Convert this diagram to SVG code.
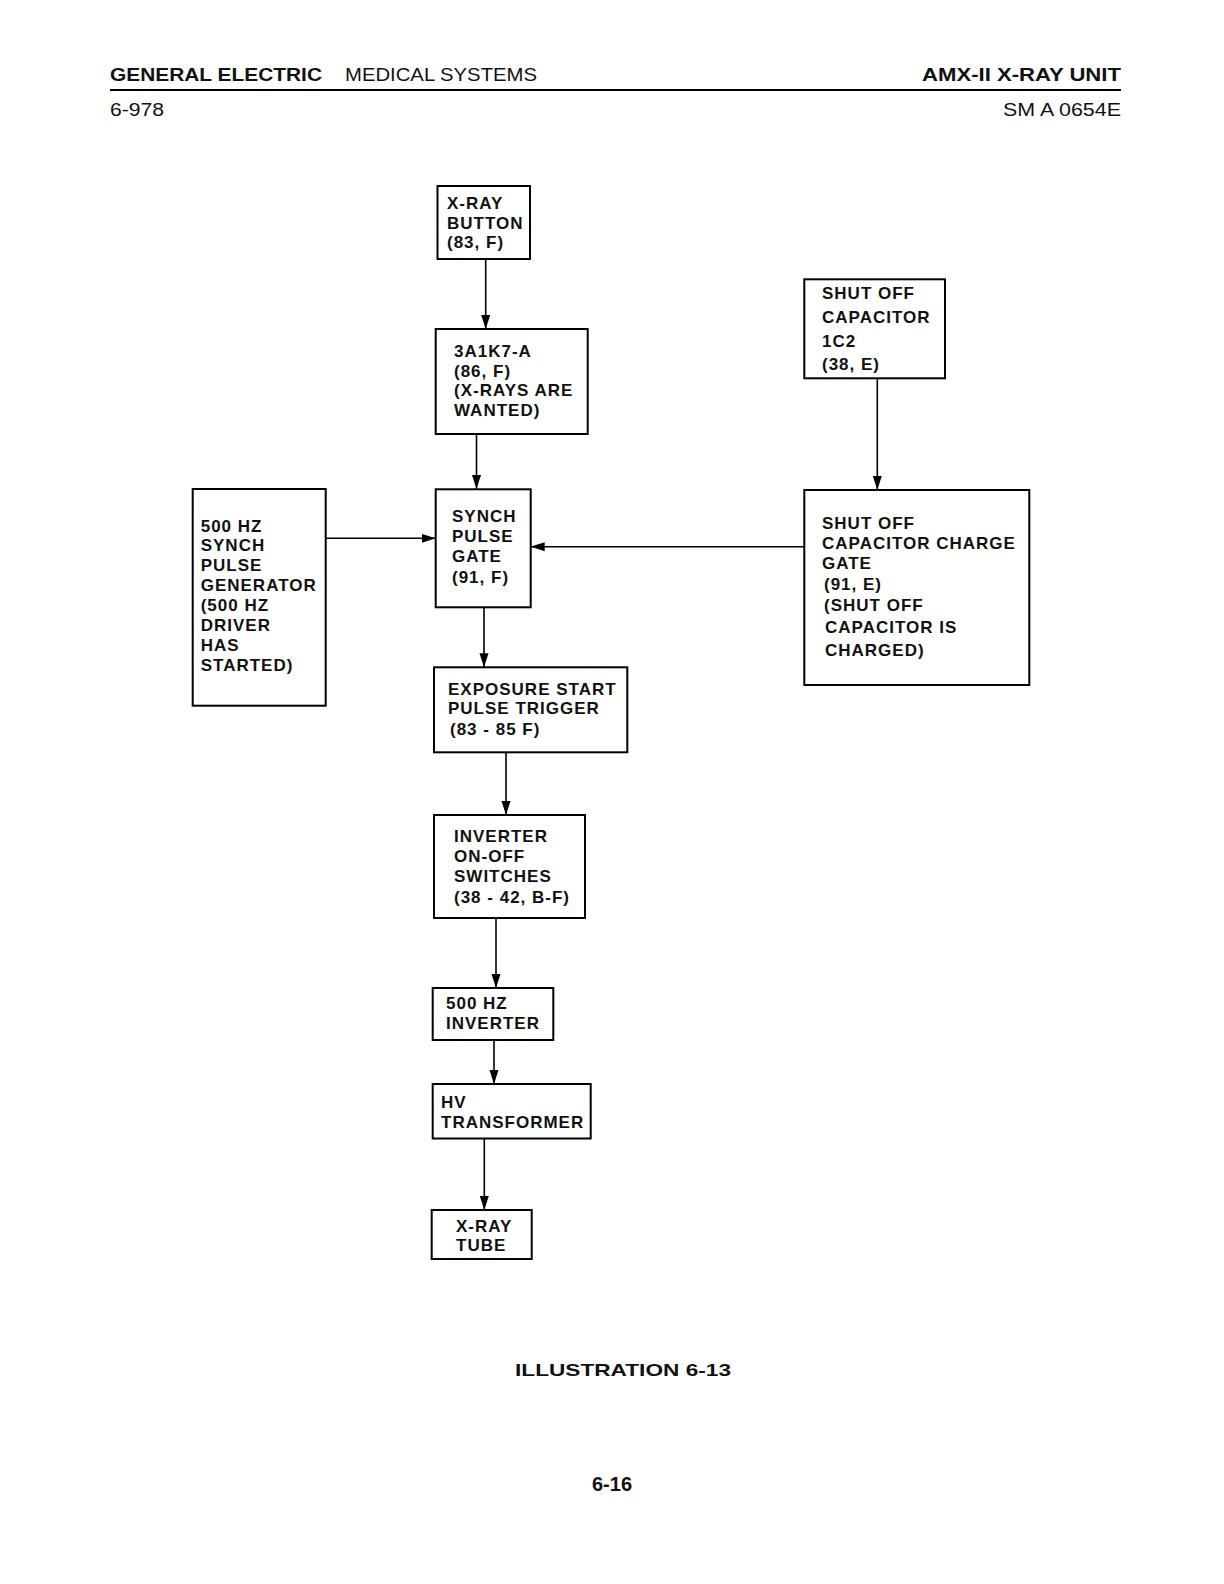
<svg xmlns="http://www.w3.org/2000/svg" width="1224" height="1584" viewBox="0 0 1224 1584">
<style>
.box{fill:none;stroke:#000;stroke-width:2}
.t{font-family:"Liberation Sans",Arial,sans-serif;font-weight:bold;font-size:17px;letter-spacing:1px;fill:#111}
.h{font-family:"Liberation Sans",Arial,sans-serif;fill:#111}
.c{fill:none;stroke:#000;stroke-width:1.6}
</style>
<defs>
<marker id="ah" markerUnits="userSpaceOnUse" markerWidth="14" markerHeight="10" refX="14" refY="5" orient="auto">
<path d="M0,0.5 L14,5 L0,9.5 Z" fill="#000"/>
</marker>
</defs>
<rect width="1224" height="1584" fill="#fff"/>
<g id="header">
<text class="h" x="110" y="81" font-size="18" font-weight="bold" textLength="212" lengthAdjust="spacingAndGlyphs">GENERAL ELECTRIC</text>
<text class="h" x="345" y="81" font-size="18" textLength="192" lengthAdjust="spacingAndGlyphs">MEDICAL  SYSTEMS</text>
<text class="h" x="922" y="81" font-size="18" font-weight="bold" textLength="199" lengthAdjust="spacingAndGlyphs">AMX-II X-RAY UNIT</text>
<line x1="110" y1="90" x2="1121" y2="90" stroke="#000" stroke-width="2"/>
<text class="h" x="110" y="115.5" font-size="18" textLength="54" lengthAdjust="spacingAndGlyphs">6-978</text>
<text class="h" x="1003" y="115.5" font-size="18" textLength="118" lengthAdjust="spacingAndGlyphs">SM A 0654E</text>
</g>
<g id="connectors">
<line class="c" x1="485.7" y1="259" x2="485.7" y2="329" marker-end="url(#ah)"/>
<line class="c" x1="476.5" y1="434" x2="476.5" y2="489" marker-end="url(#ah)"/>
<line class="c" x1="325.7" y1="538.3" x2="435.7" y2="538.3" marker-end="url(#ah)"/>
<line class="c" x1="804.3" y1="546.7" x2="530.7" y2="546.7" marker-end="url(#ah)"/>
<line class="c" x1="877.3" y1="378.3" x2="877.3" y2="490" marker-end="url(#ah)"/>
<line class="c" x1="484" y1="607.3" x2="484" y2="667.3" marker-end="url(#ah)"/>
<line class="c" x1="506" y1="752.3" x2="506" y2="815" marker-end="url(#ah)"/>
<line class="c" x1="496" y1="918" x2="496" y2="988" marker-end="url(#ah)"/>
<line class="c" x1="494" y1="1040" x2="494" y2="1084" marker-end="url(#ah)"/>
<line class="c" x1="484.3" y1="1138.5" x2="484.3" y2="1210" marker-end="url(#ah)"/>
</g>
<g id="xray-button">
<rect class="box" x="437.5" y="186" width="92.5" height="73"/>
<text class="t" x="447" y="209">X-RAY</text>
<text class="t" x="447" y="228.5">BUTTON</text>
<text class="t" x="447" y="247.5">(83, F)</text>
</g>
<g id="k7a">
<rect class="box" x="435.7" y="329" width="152" height="105"/>
<text class="t" x="454" y="357">3A1K7-A</text>
<text class="t" x="454" y="376.5">(86, F)</text>
<text class="t" x="454" y="396">(X-RAYS ARE</text>
<text class="t" x="454" y="415.5">WANTED)</text>
</g>
<g id="synch-gate">
<rect class="box" x="435.7" y="489.3" width="95" height="118"/>
<text class="t" x="452" y="522">SYNCH</text>
<text class="t" x="452" y="542">PULSE</text>
<text class="t" x="452" y="562">GATE</text>
<text class="t" x="452" y="583">(91, F)</text>
</g>
<g id="synch-gen">
<rect class="box" x="192.7" y="489" width="133" height="216.7"/>
<text class="t" x="200.7" y="531.7">500 HZ</text>
<text class="t" x="200.7" y="551">SYNCH</text>
<text class="t" x="200.7" y="571">PULSE</text>
<text class="t" x="200.7" y="591">GENERATOR</text>
<text class="t" x="200.7" y="610.5">(500 HZ</text>
<text class="t" x="200.7" y="630.5">DRIVER</text>
<text class="t" x="200.7" y="650.5">HAS</text>
<text class="t" x="200.7" y="670.5">STARTED)</text>
</g>
<g id="shutoff-cap">
<rect class="box" x="804.3" y="279.3" width="140.7" height="99"/>
<text class="t" x="822" y="298.5">SHUT OFF</text>
<text class="t" x="822" y="323">CAPACITOR</text>
<text class="t" x="822" y="347">1C2</text>
<text class="t" x="822" y="370">(38, E)</text>
</g>
<g id="charge-gate">
<rect class="box" x="804.3" y="490" width="225" height="195"/>
<text class="t" x="822" y="529">SHUT OFF</text>
<text class="t" x="822" y="549">CAPACITOR CHARGE</text>
<text class="t" x="822" y="568.5">GATE</text>
<text class="t" x="824" y="589.5">(91, E)</text>
<text class="t" x="824" y="610.5">(SHUT OFF</text>
<text class="t" x="825" y="633">CAPACITOR IS</text>
<text class="t" x="825" y="656">CHARGED)</text>
</g>
<g id="exposure">
<rect class="box" x="434" y="667.3" width="193.3" height="85"/>
<text class="t" x="448" y="695">EXPOSURE START</text>
<text class="t" x="448" y="714">PULSE TRIGGER</text>
<text class="t" x="450" y="735">(83 - 85 F)</text>
</g>
<g id="inverter-switches">
<rect class="box" x="434" y="815" width="151" height="103"/>
<text class="t" x="454" y="842">INVERTER</text>
<text class="t" x="454" y="862">ON-OFF</text>
<text class="t" x="454" y="882">SWITCHES</text>
<text class="t" x="454" y="902.5">(38 - 42, B-F)</text>
</g>
<g id="inverter">
<rect class="box" x="432.7" y="988" width="120.6" height="52"/>
<text class="t" x="446" y="1009">500 HZ</text>
<text class="t" x="446" y="1029">INVERTER</text>
</g>
<g id="hv-transformer">
<rect class="box" x="432.7" y="1084" width="158" height="54.5"/>
<text class="t" x="441" y="1108">HV</text>
<text class="t" x="441" y="1127.5">TRANSFORMER</text>
</g>
<g id="xray-tube">
<rect class="box" x="431.7" y="1210" width="100" height="49"/>
<text class="t" x="456" y="1231.5">X-RAY</text>
<text class="t" x="456" y="1251">TUBE</text>
</g>
<g id="footer">
<text class="h" x="515" y="1376" font-size="17" font-weight="bold" textLength="216" lengthAdjust="spacingAndGlyphs">ILLUSTRATION 6-13</text>
<text class="h" x="592" y="1491" font-size="20" font-weight="bold" textLength="40" lengthAdjust="spacingAndGlyphs">6-16</text>
</g>
</svg>
